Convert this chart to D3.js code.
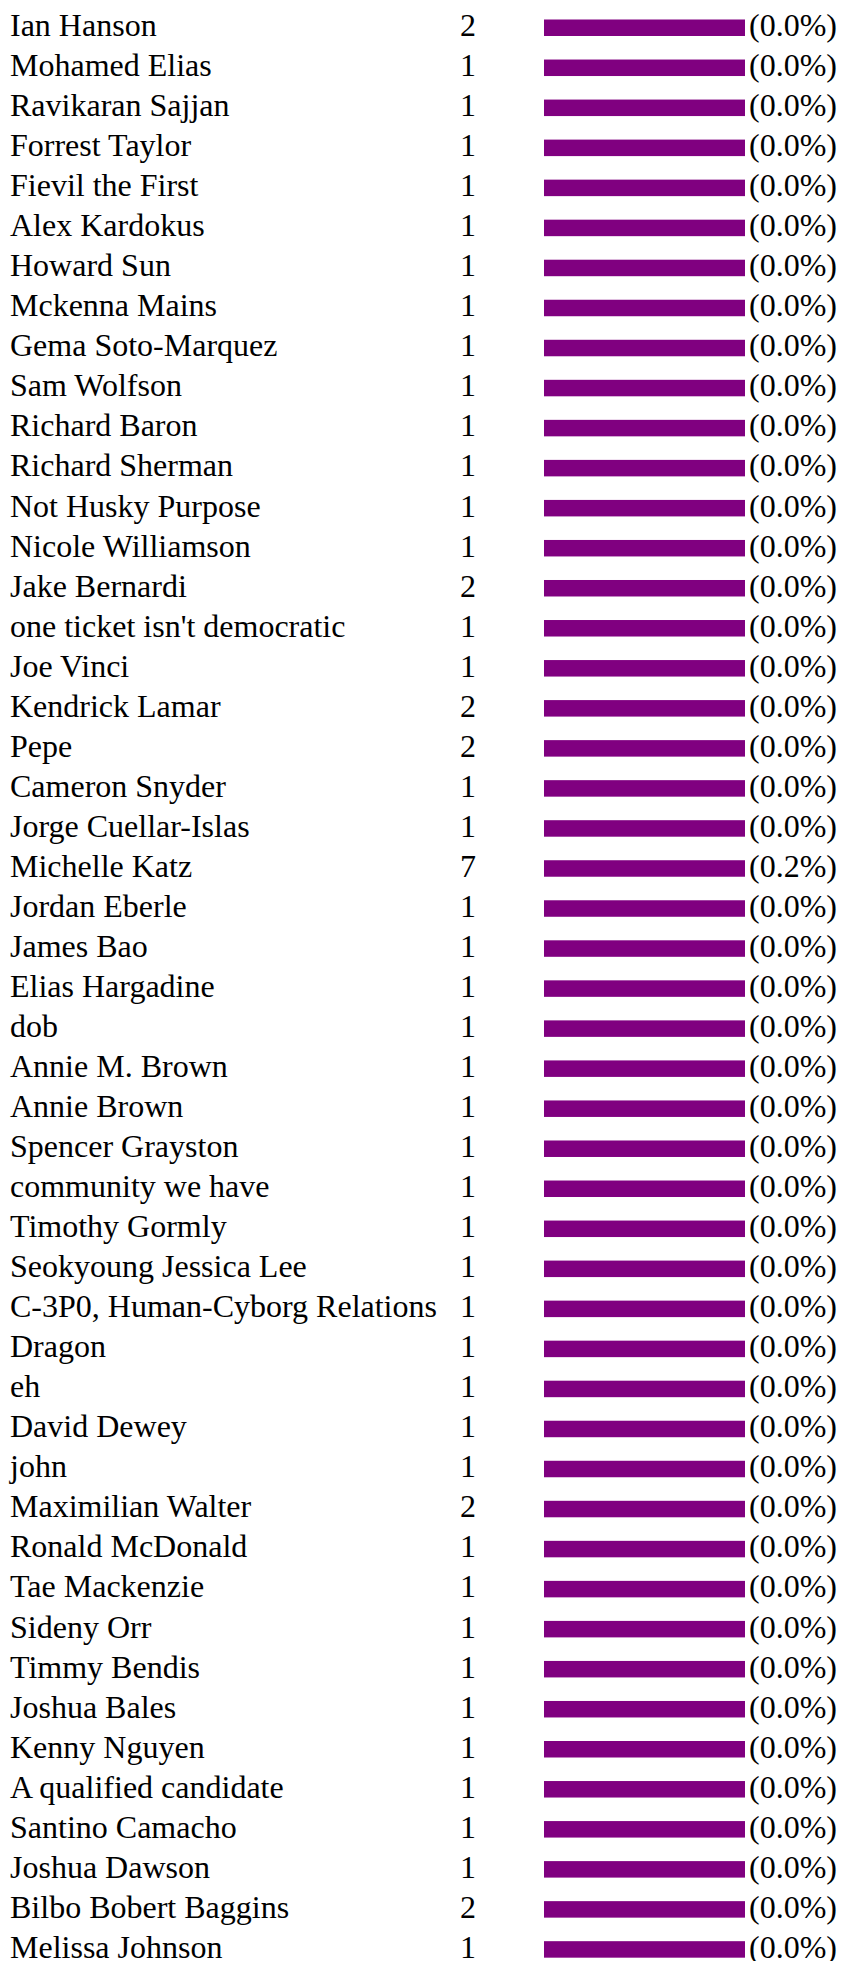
<!DOCTYPE html>
<meta charset="utf-8">
<style>
	body {
		margin: 0;
		background: #fff;
	}

	text {
		font-family: "Liberation Serif", "Times New Roman", serif;
		font-size: 32px;
		fill: #000;
	}

	.bar {
		fill: #800080;
	}
</style>

<body>
	<script src="https://d3js.org/d3.v7.min.js"></script>
	<script>
		var names = ["Ian Hanson", "Mohamed Elias", "Ravikaran Sajjan", "Forrest Taylor", "Fievil the First",
			"Alex Kardokus", "Howard Sun", "Mckenna Mains", "Gema Soto-Marquez", "Sam Wolfson",
			"Richard Baron", "Richard Sherman", "Not Husky Purpose", "Nicole Williamson", "Jake Bernardi",
			"one ticket isn't democratic", "Joe Vinci", "Kendrick Lamar", "Pepe", "Cameron Snyder",
			"Jorge Cuellar-Islas", "Michelle Katz", "Jordan Eberle", "James Bao", "Elias Hargadine",
			"dob", "Annie M. Brown", "Annie Brown", "Spencer Grayston", "community we have",
			"Timothy Gormly", "Seokyoung Jessica Lee", "C-3P0, Human-Cyborg Relations", "Dragon", "eh",
			"David Dewey", "john", "Maximilian Walter", "Ronald McDonald", "Tae Mackenzie",
			"Sideny Orr", "Timmy Bendis", "Joshua Bales", "Kenny Nguyen", "A qualified candidate",
			"Santino Camacho", "Joshua Dawson", "Bilbo Bobert Baggins", "Melissa Johnson"];

		var votes = [2, 1, 1, 1, 1, 1, 1, 1, 1, 1,
			1, 1, 1, 1, 2, 1, 1, 2, 2, 1,
			1, 7, 1, 1, 1, 1, 1, 1, 1, 1,
			1, 1, 1, 1, 1, 1, 1, 2, 1, 1,
			1, 1, 1, 1, 1, 1, 1, 2, 1];

		var percents = [0.0, 0.0, 0.0, 0.0, 0.0, 0.0, 0.0, 0.0, 0.0, 0.0,
			0.0, 0.0, 0.0, 0.0, 0.0, 0.0, 0.0, 0.0, 0.0, 0.0,
			0.0, 0.2, 0.0, 0.0, 0.0, 0.0, 0.0, 0.0, 0.0, 0.0,
			0.0, 0.0, 0.0, 0.0, 0.0, 0.0, 0.0, 0.0, 0.0, 0.0,
			0.0, 0.0, 0.0, 0.0, 0.0, 0.0, 0.0, 0.0, 0.0];

		var width = 843,
			height = 1961;

		var data = names.map(function(d, i) {
			return { name: d, votes: votes[i], pct: percents[i] };
		});

		var svg = d3.select("body").append("svg")
			.attr("width", width)
			.attr("height", height);

		// one row per candidate, ~40px apart
		var step = 40.035,
			pad = 0.588;
		var y = d3.scaleBand()
			.domain(d3.range(data.length))
			.range([7.73, 7.73 + data.length * step])
			.paddingInner(pad)
			.paddingOuter(pad / 2);

		// every bar in the source is drawn at the same (minimum) length
		var barX = 544,
			barMax = 201;
		var x = d3.scaleLinear()
			.domain([0, d3.max(percents) || 1])
			.range([barMax, barMax]);

		var row = svg.selectAll(".row")
			.data(data)
			.enter().append("g")
			.attr("class", "row")
			.attr("transform", function(d, i) {
				return "translate(0," + y(i) + ")";
			});

		var base = 16.6;

		row.append("text")
			.attr("x", 10)
			.attr("y", base)
			.text(function(d) { return d.name; });

		row.append("text")
			.attr("x", 460)
			.attr("y", base)
			.text(function(d) { return d.votes; });

		row.append("rect")
			.attr("class", "bar")
			.attr("x", barX)
			.attr("y", 0)
			.attr("width", function(d) { return x(d.pct); })
			.attr("height", y.bandwidth());

		row.append("text")
			.attr("x", function(d) { return barX + x(d.pct) + 4; })
			.attr("y", base)
			.text(function(d) { return "(" + d.pct.toFixed(1) + "%)"; });
	</script>
</body>
